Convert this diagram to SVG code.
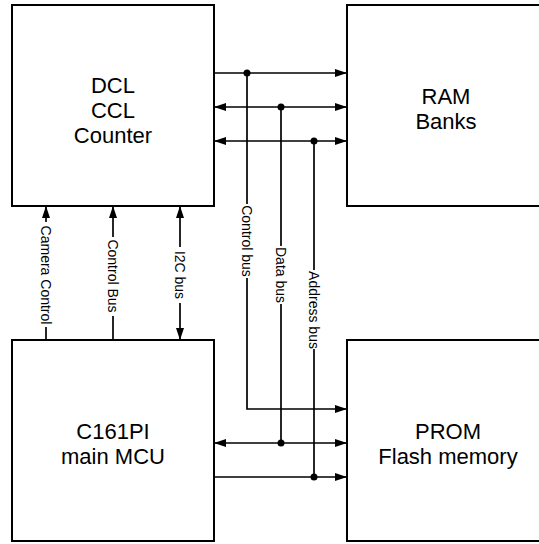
<svg xmlns="http://www.w3.org/2000/svg" width="539" height="544" viewBox="0 0 539 544">
<style>
.box{fill:#fff;stroke:#000;stroke-width:2}
.ln{fill:none;stroke:#000;stroke-width:1.7}
.big{font-family:"Liberation Sans",Arial,sans-serif;font-size:22px;fill:#000;text-anchor:middle}
.sm{font-family:"Liberation Sans",Arial,sans-serif;font-size:14px;fill:#000;text-anchor:middle}
.dot{fill:#000}
</style>
<defs>
<marker id="ae" viewBox="0 0 12 8" refX="12" refY="4" markerWidth="12" markerHeight="8" markerUnits="userSpaceOnUse" orient="auto">
<path d="M0,0 L12,4 L0,8 Z" fill="#000"/>
</marker>
<marker id="as" viewBox="0 0 12 8" refX="0" refY="4" markerWidth="12" markerHeight="8" markerUnits="userSpaceOnUse" orient="auto">
<path d="M12,0 L0,4 L12,8 Z" fill="#000"/>
</marker>
</defs>
<rect width="539" height="544" fill="#fff"/>
<g id="dcl">
<rect class="box" x="12" y="5" width="202" height="201"/>
<text class="big" x="113" y="93">DCL</text>
<text class="big" x="113" y="118">CCL</text>
<text class="big" x="113" y="143">Counter</text>
</g>
<g id="ram">
<rect class="box" x="347" y="5" width="200" height="201"/>
<text class="big" x="446" y="104">RAM</text>
<text class="big" x="446" y="129">Banks</text>
</g>
<g id="mcu">
<rect class="box" x="12" y="340" width="202" height="201"/>
<text class="big" x="113" y="439">C161PI</text>
<text class="big" x="113" y="464">main MCU</text>
</g>
<g id="prom">
<rect class="box" x="347" y="340" width="200" height="201"/>
<text class="big" x="448" y="439">PROM</text>
<text class="big" x="448" y="464">Flash memory</text>
</g>
<g id="connectors">
<!-- top buses -->
<line class="ln" x1="214" y1="73" x2="347" y2="73" marker-end="url(#ae)"/>
<line class="ln" x1="214" y1="107" x2="347" y2="107" marker-start="url(#as)" marker-end="url(#ae)"/>
<line class="ln" x1="214" y1="141" x2="347" y2="141" marker-start="url(#as)" marker-end="url(#ae)"/>
<!-- bottom buses -->
<polyline class="ln" points="247,278 247,409 347,409" marker-end="url(#ae)"/>
<line class="ln" x1="214" y1="443" x2="347" y2="443" marker-start="url(#as)" marker-end="url(#ae)"/>
<line class="ln" x1="214" y1="477" x2="347" y2="477" marker-end="url(#ae)"/>
<!-- verticals -->
<line class="ln" x1="247" y1="73" x2="247" y2="204"/>
<line class="ln" x1="281" y1="107" x2="281" y2="246"/>
<line class="ln" x1="281" y1="304" x2="281" y2="443"/>
<line class="ln" x1="314" y1="141" x2="314" y2="270"/>
<line class="ln" x1="314" y1="349" x2="314" y2="477"/>
<circle class="dot" cx="247" cy="73" r="3.5"/>
<circle class="dot" cx="281" cy="107" r="3.5"/>
<circle class="dot" cx="314" cy="141" r="3.5"/>
<circle class="dot" cx="281" cy="443" r="3.5"/>
<circle class="dot" cx="314" cy="477" r="3.5"/>
<text class="sm" transform="translate(247,241) rotate(90)" x="0" y="5">Control bus</text>
<text class="sm" transform="translate(281,275) rotate(90)" x="0" y="5">Data bus</text>
<text class="sm" transform="translate(314,310) rotate(90)" x="0" y="5">Address bus</text>
<!-- MCU to DCL -->
<line class="ln" x1="46" y1="340" x2="46" y2="327"/>
<line class="ln" x1="46" y1="222" x2="46" y2="206" marker-end="url(#ae)"/>
<text class="sm" transform="translate(46,275) rotate(90)" x="0" y="5">Camera Control</text>
<line class="ln" x1="113" y1="340" x2="113" y2="316"/>
<line class="ln" x1="113" y1="237" x2="113" y2="206" marker-end="url(#ae)"/>
<text class="sm" transform="translate(113,276) rotate(90)" x="0" y="5">Control Bus</text>
<line class="ln" x1="180" y1="247" x2="180" y2="206" marker-end="url(#ae)"/>
<line class="ln" x1="180" y1="303" x2="180" y2="340" marker-end="url(#ae)"/>
<text class="sm" transform="translate(180,275) rotate(90)" x="0" y="5">I2C bus</text>
</g>
</svg>
